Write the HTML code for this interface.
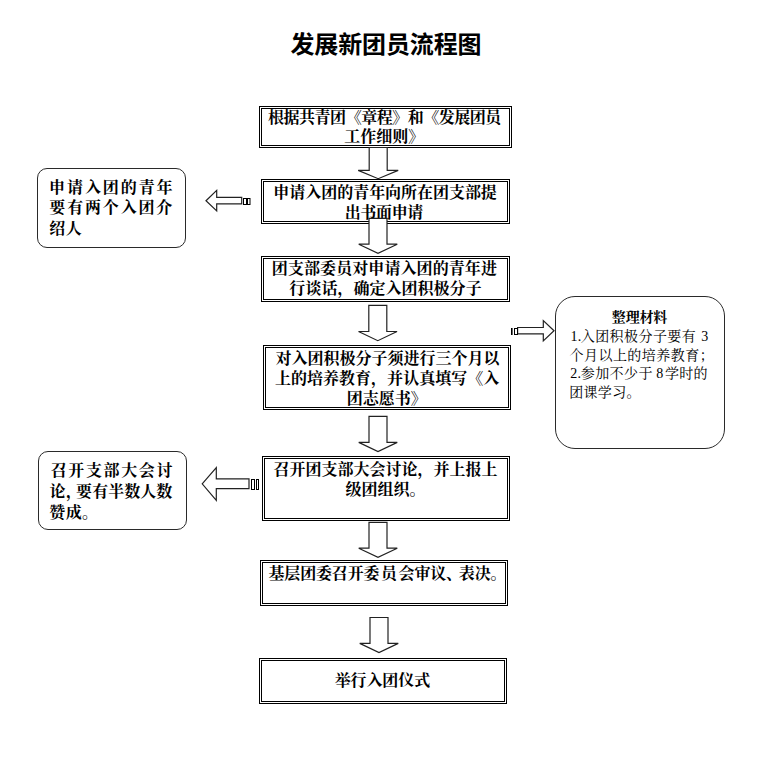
<!DOCTYPE html>
<html lang="zh-CN">
<head>
<meta charset="utf-8">
<title>发展新团员流程图</title>
<style>
html,body{margin:0;padding:0;background:#fff}
body{position:relative;width:767px;height:779px;overflow:hidden;font-family:"Liberation Serif","Noto Serif CJK SC",serif;font-size:16px;line-height:20px}
h1,p,div{margin:0;padding:0}
/* selectable copy of the text lives in the DOM (transparent); the visible labels are real SVG <text> in the #art layer */
.tx{color:transparent;white-space:nowrap;overflow:hidden;-webkit-user-select:text;user-select:text}
h1.tx{position:absolute;left:290px;top:30px;width:192px;height:26px;font:bold 24px/26px "Liberation Sans","Noto Sans CJK SC",sans-serif;text-align:center}
.step{position:absolute;box-sizing:border-box;border:3px double #000;background:#fff;text-align:center;font-weight:bold}
.step p{height:20px;line-height:20px}
.note{position:absolute;box-sizing:border-box;border:1px solid #2a2a2a;background:#fff;font-weight:bold;padding:9px 12px}
.note p{height:20.7px;line-height:20.7px}
.note.r{font-weight:normal;font-size:14px;padding:12px 14px}
.note.r p{height:18.7px;line-height:18.7px}
.note.r p.hd{font-weight:bold;text-align:center}
#art{position:absolute;left:0;top:0;width:767px;height:779px;pointer-events:none}
#art .ar{fill:#fff;stroke:#222;stroke-width:1.2;stroke-linejoin:miter}
#art .st{fill:#fff;stroke:#000;stroke-width:1}
#art .ink{fill:#000}
#art .ttl{font-family:"Liberation Sans","Noto Sans CJK SC",sans-serif;font-weight:bold;font-size:24px}
#art .bd{font-family:"Liberation Serif","Noto Serif CJK SC",serif;font-weight:bold;font-size:16px}
#art .hd{font-family:"Liberation Serif","Noto Serif CJK SC",serif;font-weight:bold;font-size:14px}
#art .rg{font-family:"Liberation Serif","Noto Serif CJK SC",serif;font-weight:normal;font-size:14px}
</style>
</head>
<body>
<h1 class="tx">发展新团员流程图</h1>
<div class="step" style="left:259px;top:106px;width:253px;height:42px"><p class="tx">根据共青团《章程》和《发展团员</p><p class="tx">工作细则》</p></div>
<div class="step" style="left:261px;top:179px;width:249px;height:45px"><p class="tx">申请入团的青年向所在团支部提</p><p class="tx">出书面申请</p></div>
<div class="step" style="left:261px;top:256px;width:249px;height:46px"><p class="tx">团支部委员对申请入团的青年进</p><p class="tx">行谈话，确定入团积极分子</p></div>
<div class="step" style="left:263px;top:345px;width:248px;height:65px"><p class="tx">对入团积极分子须进行三个月以</p><p class="tx">上的培养教育，并认真填写《入</p><p class="tx">团志愿书》</p></div>
<div class="step" style="left:262px;top:456px;width:248px;height:65px"><p class="tx">召开团支部大会讨论，并上报上</p><p class="tx">级团组织。</p></div>
<div class="step" style="left:260px;top:560px;width:248px;height:46px"><p class="tx">基层团委召开委员会审议、表决。</p></div>
<div class="step" style="left:259px;top:658px;width:248px;height:46px"><p class="tx">举行入团仪式</p></div>
<div class="note" style="left:37px;top:168px;width:149px;height:80px;border-radius:10px"><p class="tx">申请入团的青年</p><p class="tx">要有两个入团介</p><p class="tx">绍人</p></div>
<div class="note" style="left:38px;top:451px;width:149px;height:79px;border-radius:10px"><p class="tx">召开支部大会讨</p><p class="tx">论，要有半数人数</p><p class="tx">赞成。</p></div>
<div class="note r" style="left:555px;top:296px;width:170px;height:153px;border-radius:20px"><p class="tx hd">整理材料</p><p class="tx">1.入团积极分子要有 3</p><p class="tx">个月以上的培养教育；</p><p class="tx">2.参加不少于 8学时的</p><p class="tx">团课学习。</p></div>
<svg id="art" width="767" height="779" viewBox="0 0 767 779" aria-hidden="true">
<g class="ink ttl">
<text y="52.63" x="290.39 314.28 338.16 362.05 385.94 409.82 433.71 457.6">发展新团员流程图</text>
</g>
<g class="ink bd">
<text y="122.96" x="268.02 283.55 299.07 314.59 330.12 345.64 361.16 376.69 392.21 407.73 423.26 438.78 454.3 469.83 485.35">根据共青团《章程》和《发展团员</text>
<text y="142.16" x="344.14 360.14 376.14 392.14 408.14">工作细则》</text>
<text y="197.56" x="273.34 289.31 305.27 321.23 337.2 353.16 369.13 385.09 401.05 417.02 432.98 448.95 464.91 480.87">申请入团的青年向所在团支部提</text>
<text y="217.56" x="344.67 360.35 376.02 391.69 407.36">出书面申请</text>
<text y="274.06" x="271.87 287.95 304.03 320.1 336.18 352.26 368.34 384.42 400.5 416.58 432.65 448.73 464.81 480.89">团支部委员对申请入团的青年进</text>
<text y="294.06" x="289.36 305.39 321.41 337.44 353.46 369.49 385.52 401.54 417.57 433.59 449.62 465.65">行谈话，确定入团积极分子</text>
<text y="363.96" x="275.56 291.56 307.57 323.57 339.57 355.58 371.58 387.59 403.59 419.59 435.6 451.6 467.61 483.61">对入团积极分子须进行三个月以</text>
<text y="383.86" x="274.9 290.93 306.96 322.99 339.02 355.05 371.08 387.11 403.14 419.17 435.2 451.23 467.26 483.29">上的培养教育，并认真填写《入</text>
<text y="404.06" x="346.87 362.87 378.87 394.87 410.87">团志愿书》</text>
<text y="474.56" x="273.39 289.4 305.42 321.43 337.45 353.46 369.48 385.49 401.5 417.52 433.53 449.55 465.56 481.58">召开团支部大会讨论，并上报上</text>
<text y="494.56" x="345.57 361.57 377.57 393.57 409.57">级团组织。</text>
<text y="579.06" x="268.46 284.29 300.13 315.96 331.8 347.63 363.47 381.04 398.62 414.46 430.29 446.12 458.79 474.63 490.46">基层团委召开委员会审议、表决。</text>
<text y="686.21" x="334.64 350.54 366.44 382.33 398.23 414.13">举行入团仪式</text>
<text y="192.66" x="49.09 67.01 84.93 102.84 120.76 138.68 156.59">申请入团的青年</text>
<text y="213.36" x="49.34 67.17 85.01 102.85 120.68 138.52 156.36">要有两个入团介</text>
<text y="234.06" x="49.37 65.77">绍人</text>
<text y="476.06" x="50.64 68.26 85.89 103.51 121.14 138.77 156.39">召开支部大会讨</text>
<text y="497.36" x="49.46 66.1 76.09 92.14 108.18 124.23 140.28 156.32">论，要有半数人数</text>
<text y="517.96" x="49.37 65.67 81.97">赞成。</text>
</g>
<g class="ink hd">
<text y="321.93" x="611.83 625.65 639.48 653.3">整理材料</text>
</g>
<g class="ink rg">
<text y="340.6"><tspan x="570.6 577.85 580.71 595.15 609.59 624.04 638.48 652.92 667.36 681.8">1.入团积极分子要有</tspan> <tspan x="701.3">3</tspan></text>
<text y="359.62" x="569.52 583.98 598.44 612.89 627.35 641.81 656.26 670.72 685.18 699.63">个月以上的培养教育；</text>
<text y="378.4"><tspan x="570.2 577.45 580.74 595.18 609.62 624.06 638.5">2.参加不少于</tspan> <tspan x="656.3 664.97 679.24 693.52">8学时的</tspan></text>
<text y="397.22" x="569.23 583.53 597.83 612.13 626.43">团课学习。</text>
</g>
<g class="ar">
<polygon points="369.2,147.5 387.2,147.5 387.2,170.4 398.2,170.4 378.2,178.7 358.2,170.4 369.2,170.4"/>
<polygon points="369,218.3 387,218.3 387,244.2 397.25,244.2 378,253.4 358.75,244.2 369,244.2"/>
<polygon points="368.8,305.4 386.8,305.4 386.8,331.5 397.05,331.5 377.8,340.7 358.55,331.5 368.8,331.5"/>
<polygon points="369,416.3 387,416.3 387,442.4 397.25,442.4 378,451.6 358.75,442.4 369,442.4"/>
<polygon points="369,522.3 387,522.3 387,548.2 397.25,548.2 378,557.4 358.75,548.2 369,548.2"/>
<polygon points="370,617.5 388,617.5 388,643.4 398.25,643.4 379,652.6 359.75,643.4 370,643.4"/>
<polygon points="206,200.7 216.7,190.4 216.7,197.4 241.7,197.4 241.7,203.9 216.7,203.9 216.7,210.9"/>
<polygon points="202.2,483.8 216.3,467.5 216.3,478.9 249,478.9 249,488.7 216.3,488.7 216.3,500.3"/>
<polygon points="554,330.7 543.3,320.6 543.3,327.5 517.6,327.5 517.6,333.8 543.3,333.8 543.3,340.9"/>
</g>
<g class="st">
<rect x="243.5" y="198.5" width="3" height="6"/>
<rect x="247.5" y="198.5" width="2.5" height="6"/>
<rect x="251.5" y="479.5" width="3" height="10"/>
<rect x="256.5" y="479.5" width="2" height="10"/>
<rect x="511" y="328" width="1.6" height="7" fill="#000" stroke="none"/>
<rect x="514.5" y="328.5" width="3" height="6"/>
</g>
</svg>
</body>
</html>
